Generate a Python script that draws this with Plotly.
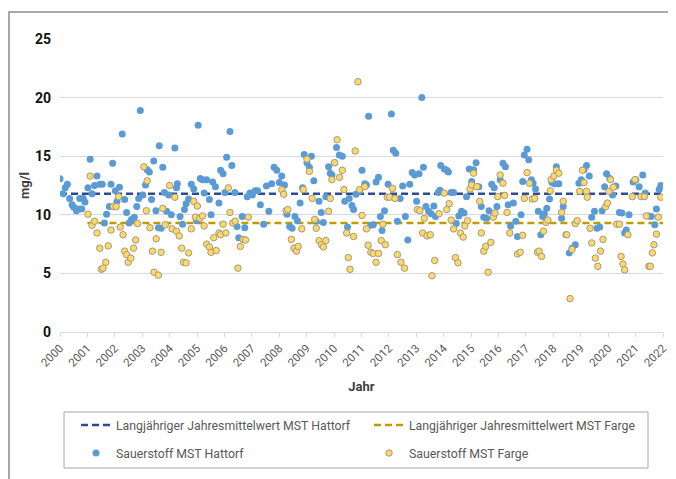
import plotly.graph_objects as go

# ---------------- data ----------------
years_hattorf = [
    2000.00, 2000.11, 2000.19, 2000.27, 2000.35, 2000.44, 2000.50, 2000.60, 2000.66, 2000.72, 2000.79, 2000.85, 2000.91,
    2001.02, 2001.10, 2001.17, 2001.26, 2001.35, 2001.45, 2001.54, 2001.62, 2001.70, 2001.80, 2001.86, 2001.92,
    2002.02, 2002.08, 2002.17, 2002.27, 2002.36, 2002.43, 2002.52, 2002.61, 2002.71, 2002.80, 2002.87, 2002.93,
    2003.02, 2003.12, 2003.18, 2003.26, 2003.34, 2003.42, 2003.50, 2003.59, 2003.62, 2003.69, 2003.75, 2003.81, 2003.89, 2003.97,
    2004.06, 2004.19, 2004.25, 2004.28, 2004.38, 2004.47, 2004.54, 2004.60, 2004.69, 2004.79, 2004.88, 2004.98,
    2005.04, 2005.12, 2005.20, 2005.26, 2005.35, 2005.45, 2005.51, 2005.57, 2005.67, 2005.80, 2005.86, 2005.95,
    2006.02, 2006.08, 2006.20, 2006.27, 2006.38, 2006.46, 2006.52, 2006.65, 2006.74, 2006.83, 2006.93,
    2007.02, 2007.12, 2007.21, 2007.31, 2007.43, 2007.53, 2007.62, 2007.72, 2007.81, 2007.91,
    2008.00, 2008.09, 2008.19, 2008.28, 2008.38, 2008.47, 2008.57, 2008.66, 2008.76, 2008.85, 2008.91,
    2009.01, 2009.10, 2009.17, 2009.26, 2009.35, 2009.45, 2009.53, 2009.61, 2009.70, 2009.80, 2009.86, 2009.92,
    2010.02, 2010.09, 2010.19, 2010.30, 2010.39, 2010.49, 2010.55, 2010.65, 2010.71, 2010.80, 2010.93,
    2011.02, 2011.12, 2011.18, 2011.26, 2011.34, 2011.43, 2011.53, 2011.62, 2011.69, 2011.75, 2011.84, 2011.97,
    2012.09, 2012.16, 2012.25, 2012.31, 2012.41, 2012.50, 2012.60, 2012.69, 2012.76, 2012.85, 2012.94,
    2013.01, 2013.10, 2013.20, 2013.26, 2013.35, 2013.45, 2013.54, 2013.64, 2013.70, 2013.80, 2013.86, 2013.89,
    2014.02, 2014.11, 2014.17, 2014.27, 2014.36, 2014.46, 2014.55, 2014.65, 2014.74, 2014.83, 2014.93,
    2015.02, 2015.09, 2015.18, 2015.28, 2015.37, 2015.46, 2015.56, 2015.65, 2015.75, 2015.84, 2015.94,
    2016.06, 2016.16, 2016.25, 2016.35, 2016.44, 2016.54, 2016.63, 2016.69, 2016.82, 2016.88, 2016.94,
    2017.04, 2017.10, 2017.20, 2017.26, 2017.35, 2017.45, 2017.54, 2017.61, 2017.67, 2017.76, 2017.86, 2017.95,
    2018.05, 2018.11, 2018.20, 2018.30, 2018.36, 2018.46, 2018.58, 2018.68, 2018.80, 2018.93,
    2019.02, 2019.12, 2019.21, 2019.31, 2019.40, 2019.50, 2019.59, 2019.69, 2019.78, 2019.87, 2019.94,
    2020.06, 2020.16, 2020.28, 2020.41, 2020.50, 2020.60, 2020.66, 2020.76, 2020.91,
    2021.01, 2021.13, 2021.26, 2021.35, 2021.48, 2021.57, 2021.70, 2021.76, 2021.86, 2021.92,
]
oxygen_hattorf = [
    13.07, 11.8, 12.3, 12.6, 11.4, 10.85, 10.65, 10.35, 10.5, 11.4, 10.5, 11.4, 11.1,
    12.3, 14.75, 11.8, 12.5, 13.3, 12.6, 12.6, 9.3, 10.05, 10.7, 12.6, 14.4,
    12.05, 11.15, 12.35, 16.9, 11.3, 10.2, 9.3, 9.6, 9.8, 10.7, 11.4, 18.9,
    11.7, 12.55, 13.85, 13.65, 11.3, 14.6, 10.35, 8.9, 15.9, 8.85, 14.05, 11.9, 10.3, 11.7,
    10.0, 15.7, 12.3, 12.65, 9.85, 9.2, 10.45, 10.95, 11.35, 12.6, 12.2, 9.5,
    17.65, 13.1, 13.0, 11.85, 13.0, 11.3, 10.0, 12.8, 12.4, 11.0, 13.8, 13.5,
    11.9, 14.9, 17.1, 14.2, 11.9, 9.0, 8.05, 9.85, 8.9, 11.55, 11.85,
    11.7, 12.05, 12.05, 10.85, 9.2, 12.45, 10.3, 12.65, 14.05, 13.8,
    12.75, 13.3, 12.55, 10.05, 9.0, 8.85, 9.85, 9.5, 11.0, 12.3, 15.15,
    14.45, 14.05, 15.0, 12.9, 9.45, 11.15, 10.2, 9.35, 11.55, 14.1, 13.55, 13.4,
    14.45, 15.75, 15.1, 15.0, 11.15, 8.95, 11.4, 10.8, 10.45, 11.75, 12.0,
    13.8, 12.65, 12.55, 18.4, 9.1, 9.15, 12.8, 13.2, 9.85, 8.65, 10.35, 12.6,
    18.6, 15.5, 15.25, 9.45, 11.4, 12.45, 9.85, 7.85, 12.6, 13.6, 13.4,
    11.15, 13.5, 20.0, 14.05, 10.7, 10.3, 10.1, 10.75, 9.85, 11.9, 12.1, 14.2,
    13.9, 13.8, 13.65, 11.9, 11.9, 9.25, 9.9, 10.3, 10.15, 11.55, 13.9,
    12.85, 13.85, 14.45, 12.4, 10.7, 9.8, 9.7, 10.35, 12.6, 12.3, 10.7,
    13.0, 14.4, 14.1, 10.85, 9.05, 11.0, 9.45, 8.15, 10.0, 12.85, 15.1,
    15.6, 14.7, 13.0, 12.7, 12.2, 10.3, 8.3, 9.85, 10.1, 10.55, 11.35, 12.75,
    12.65, 14.1, 12.65, 9.7, 10.7, 8.3, 6.75, 7.15, 7.45, 12.7,
    13.0, 13.85, 14.2, 13.3, 9.8, 10.3, 8.85, 8.95, 10.35, 12.4, 13.5,
    13.1, 11.7, 12.45, 10.2, 10.15, 8.45, 8.7, 10.0, 12.8,
    13.0, 12.4, 13.4, 11.85, 9.9, 9.85, 9.15, 10.5, 12.15, 12.5,
]

years_farge = [
    2001.02, 2001.10, 2001.17, 2001.26, 2001.35, 2001.45, 2001.51, 2001.57, 2001.67, 2001.76, 2001.86, 2001.95,
    2002.05, 2002.14, 2002.20, 2002.30, 2002.36, 2002.43, 2002.49, 2002.58, 2002.68, 2002.76, 2002.83,
    2003.06, 2003.15, 2003.18, 2003.28, 2003.37, 2003.43, 2003.51, 2003.59, 2003.69, 2003.75, 2003.84,
    2004.00, 2004.09, 2004.19, 2004.25, 2004.35, 2004.44, 2004.50, 2004.60, 2004.69, 2004.79, 2004.88, 2004.94,
    2005.01, 2005.10, 2005.20, 2005.26, 2005.35, 2005.45, 2005.51, 2005.61, 2005.70, 2005.80, 2005.86, 2005.95,
    2006.05, 2006.14, 2006.20, 2006.30, 2006.39, 2006.49, 2006.58, 2006.68, 2006.77, 2006.87,
    2008.09, 2008.16, 2008.25, 2008.31, 2008.44, 2008.54, 2008.63, 2008.69, 2008.82, 2008.88,
    2009.01, 2009.10, 2009.20, 2009.29, 2009.35, 2009.45, 2009.54, 2009.61, 2009.70, 2009.80, 2009.86, 2009.92,
    2010.02, 2010.11, 2010.20, 2010.30, 2010.36, 2010.46, 2010.52, 2010.58, 2010.71, 2010.77, 2010.87, 2010.93,
    2011.02, 2011.12, 2011.18, 2011.24, 2011.34, 2011.43, 2011.53, 2011.62, 2011.72, 2011.78, 2011.87, 2011.94,
    2012.03, 2012.13, 2012.22, 2012.31, 2012.44, 2012.57,
    2013.04, 2013.13, 2013.23, 2013.29, 2013.39, 2013.51, 2013.57, 2013.67, 2013.83,
    2014.02, 2014.11, 2014.20, 2014.27, 2014.36, 2014.43, 2014.52, 2014.61, 2014.71, 2014.77, 2014.87, 2014.96,
    2015.02, 2015.09, 2015.21, 2015.31, 2015.37, 2015.46, 2015.53, 2015.62, 2015.72, 2015.81, 2015.87, 2015.97,
    2016.06, 2016.16, 2016.22, 2016.31, 2016.41, 2016.69, 2016.79, 2016.88, 2016.94,
    2017.04, 2017.13, 2017.23, 2017.32, 2017.42, 2017.48, 2017.57, 2017.64, 2017.73, 2017.80, 2017.89, 2017.92,
    2018.02, 2018.11, 2018.20, 2018.30, 2018.36, 2018.49, 2018.61, 2018.68, 2018.80, 2018.87, 2018.96,
    2019.06, 2019.12, 2019.21, 2019.24, 2019.34, 2019.40, 2019.53, 2019.62, 2019.72, 2019.81, 2019.91, 2019.97,
    2020.03, 2020.09, 2020.19, 2020.31, 2020.41, 2020.47, 2020.54, 2020.60, 2020.72, 2020.88, 2020.98,
    2021.20, 2021.32, 2021.39, 2021.48, 2021.54, 2021.61, 2021.67, 2021.76, 2021.83, 2021.92,
]
oxygen_farge = [
    10.05, 13.3, 9.1, 9.45, 8.45, 7.15, 5.35, 5.45, 5.95, 7.35, 8.7, 10.7,
    10.7, 11.55, 8.95, 8.3, 6.9, 6.6, 5.95, 6.3, 7.15, 7.85, 9.25,
    14.1, 10.35, 12.9, 8.9, 6.9, 5.1, 7.95, 4.85, 6.8, 10.55, 9.15,
    12.5, 8.8, 11.5, 8.6, 8.2, 7.15, 5.95, 5.9, 6.75, 8.8, 11.15, 9.8,
    10.75, 9.7, 9.9, 9.05, 7.5, 7.25, 6.8, 8.05, 6.95, 8.45, 8.3, 9.2,
    8.45, 12.3, 10.2, 9.3, 9.45, 5.45, 7.3, 7.9, 7.85, 9.8,
    12.15, 11.75, 10.35, 10.45, 7.9, 7.15, 6.9, 7.3, 8.8, 12.15,
    14.75, 13.7, 11.4, 9.6, 8.85, 7.8, 7.45, 7.25, 7.8, 10.3, 11.4, 13.0,
    14.45, 16.4, 13.2, 13.8, 12.15, 8.45, 6.35, 5.35, 8.15, 15.45, 21.35, 12.15,
    9.95, 12.4, 8.8, 7.4, 6.8, 6.7, 5.95, 6.7, 7.8, 9.2, 7.45, 11.5,
    11.5, 12.25, 11.4, 6.6, 5.95, 5.45,
    10.45, 10.35, 8.45, 9.7, 8.2, 8.3, 4.8, 6.1, 10.1,
    11.85, 10.45, 10.95, 9.55, 8.8, 6.35, 5.9, 8.45, 8.1, 9.05, 9.5, 12.2,
    12.55, 13.55, 12.4, 11.15, 8.45, 6.9, 7.3, 5.1, 7.65, 9.8, 10.15, 11.55,
    13.4, 12.7, 11.65, 10.2, 8.45, 6.65, 6.8, 8.25, 11.4,
    13.6, 12.7, 11.35, 11.4, 6.8, 6.9, 6.45, 8.6, 9.35, 9.55, 12.05, 13.0,
    13.3, 13.8, 13.55, 10.2, 11.15, 8.3, 2.85, 7.05, 9.25, 9.5, 12.0,
    13.8, 12.75, 12.0, 11.5, 8.85, 7.6, 6.3, 5.6, 6.9, 7.9, 10.7, 11.0,
    12.0, 13.0, 12.35, 9.2, 9.2, 6.45, 5.8, 5.3, 8.3, 11.55, 13.0,
    11.55, 11.55, 9.9, 5.6, 5.6, 6.75, 7.45, 8.35, 9.8, 11.5,
]

mean_hattorf = 11.8
mean_farge = 9.3
mean_hattorf_span = [2000, 2022]
mean_farge_span = [2001, 2022]

tick_years = list(range(2000, 2023))
tick_labels = [str(y) for y in tick_years]
y_ticks = [0, 5, 10, 15, 20, 25]

name_mean_h = "Langjähriger Jahresmittelwert MST Hattorf"
name_mean_f = "Langjähriger Jahresmittelwert MST Farge"
name_h = "Sauerstoff MST Hattorf"
name_f = "Sauerstoff MST Farge"

# ---------------- figure ----------------
FONT = "Roboto, Arial, sans-serif"
BLUE = "#5B9BD5"
YELLOW = "#FFD966"
DARKBLUE = "#2F4A94"
GOLD = "#C19A00"

# the page body adds an 8px offset, so the figure is 8px smaller than the window
W, H = 668, 471
ML, MR, MT, MB = 52, 13, 31, 147

fig = go.Figure()

fig.add_trace(go.Scatter(
    x=mean_hattorf_span, y=[mean_hattorf, mean_hattorf], mode="lines", name=name_mean_h,
    line=dict(color=DARKBLUE, width=2.5, dash="7px,4px"), legend="legend"))
fig.add_trace(go.Scatter(
    x=mean_farge_span, y=[mean_farge, mean_farge], mode="lines", name=name_mean_f,
    line=dict(color=GOLD, width=2.5, dash="7px,4px"), legend="legend"))
fig.add_trace(go.Scatter(
    x=years_hattorf, y=oxygen_hattorf, mode="markers", name=name_h,
    marker=dict(color=BLUE, size=7, line=dict(width=0)), legend="legend2"))
fig.add_trace(go.Scatter(
    x=years_farge, y=oxygen_farge, mode="markers", name=name_f,
    marker=dict(color=YELLOW, size=6.5, line=dict(color="#A09A88", width=1)), legend="legend2"))

PW = W - ML - MR
PH = H - MT - MB

def px_x(px):
    return (px - ML) / PW

def px_y(py):
    return (H - MB - py) / PH

legend_common = dict(
    orientation="h", xanchor="left", yanchor="middle",
    bgcolor="rgba(0,0,0,0)", borderwidth=0,
    font=dict(family=FONT, size=12.3, color="#595959"),
    entrywidth=248, entrywidthmode="pixels", itemclick=False, itemdoubleclick=False,
    traceorder="normal",
)

frame_path = "M {x0},{yb} L {x0},{yt} L {xr},{yt}".format(
    x0=px_x(1), yb=px_y(H + 20), yt=px_y(4), xr=px_x(W + 20))

fig.update_layout(
    width=W, height=H,
    margin=dict(l=ML, r=MR, t=MT, b=MB, autoexpand=False),
    paper_bgcolor="white", plot_bgcolor="white",
    font=dict(family=FONT, color="#404040"),
    showlegend=True,
    legend=dict(x=px_x(68), y=px_y(417), **legend_common),
    legend2=dict(x=px_x(68), y=px_y(445), **legend_common),
    xaxis=dict(
        range=[2000, 2022], tickmode="array", tickvals=tick_years, ticktext=tick_labels,
        tickangle=-45, tickfont=dict(family=FONT, size=11.5, color="#595959"),
        showgrid=False, zeroline=False, showline=True, linecolor="#D9D9D9", linewidth=1,
        ticks="outside", ticklen=4, tickcolor="#D9D9D9", automargin=False,
        title=dict(text="Jahr", font=dict(family=FONT, size=13, color="#404040", weight="bold"), standoff=13),
    ),
    yaxis=dict(
        range=[0, 25], tickmode="array", tickvals=y_ticks,
        tickfont=dict(family=FONT, size=14, color="#111111", weight="bold"),
        showgrid=True, gridcolor="#D9D9D9", gridwidth=1, zeroline=False, showline=False,
        ticks="", ticklabelstandoff=8, automargin=False,
        title=dict(text="mg/l", font=dict(family=FONT, size=13, color="#404040", weight="bold"), standoff=2),
    ),
    shapes=[
        dict(type="path", xref="paper", yref="paper", path=frame_path,
             line=dict(color="#8C8C8C", width=1.5), layer="below"),
        dict(type="rect", xref="paper", yref="paper",
             x0=px_x(56), x1=px_x(640), y0=px_y(460), y1=px_y(404),
             line=dict(color="#A6A6A6", width=1), fillcolor="rgba(0,0,0,0)", layer="below"),
    ],
)

fig.write_html("out.html", config={"displayModeBar": False})
